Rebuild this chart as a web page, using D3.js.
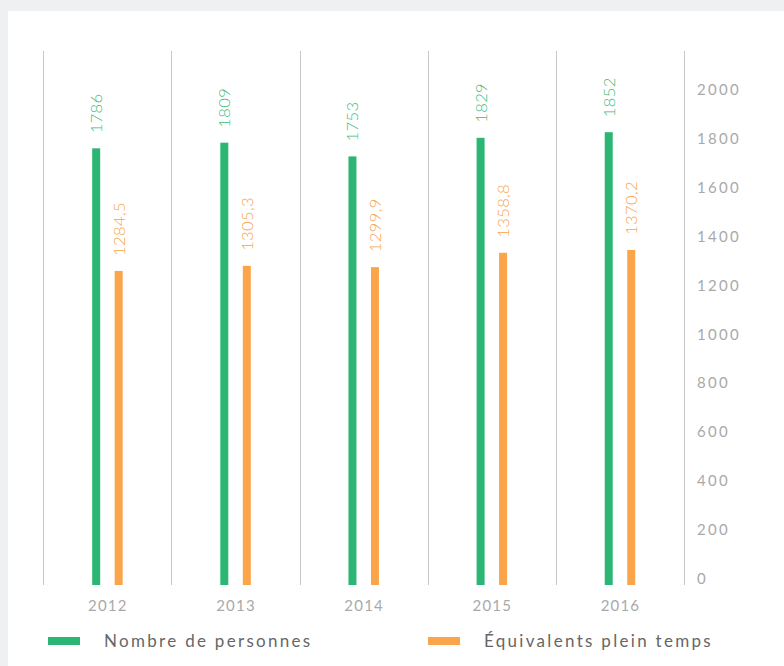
<!DOCTYPE html>
<html><head><meta charset="utf-8">
<script src="https://cdn.jsdelivr.net/npm/d3@7"></script>
<style>
html,body{margin:0;padding:0;background:#eff0f2;}
svg{display:block;}
text{font-family:Lato,"Open Sans",sans-serif;}
</style></head><body>
<script>
const years = ["2012","2013","2014","2015","2016"];
const personnes = [1786, 1809, 1753, 1829, 1852];
const etp = [1284.5, 1305.3, 1299.9, 1358.8, 1370.2];
const etpLabels = ["1284,5","1305,3","1299,9","1358,8","1370,2"];
const yTicks = [0,200,400,600,800,1000,1200,1400,1600,1800,2000];
const seriesNames = ["Nombre de personnes","Équivalents plein temps"];
const colors = ["#2bb673","#fba54a"];
const labelColors = ["#3dbe7b","#f9a54a"];

const W = 784, H = 666;
const svg = d3.select("body").append("svg").attr("width", W).attr("height", H);
svg.append("rect").attr("x", 8).attr("y", 11).attr("width", W - 8).attr("height", H - 11).attr("fill", "#fff");

const x = d3.scaleBand().domain(years).range([43.3, 684]);
const y = d3.scaleLinear().domain([0, 2000]).range([585, 96]);

// vertical grid lines
const gx = x.range();
const lines = years.map(d => x(d)).concat([gx[1]]);
svg.selectAll("line.grid").data(lines).join("line")
  .attr("x1", d => Math.round(d) + 0.5).attr("x2", d => Math.round(d) + 0.5)
  .attr("y1", 51).attr("y2", 585)
  .attr("stroke", "#c8c8c8").attr("stroke-width", 1);

const offsets = [-11.2, 11.3];
const bw = 8;
[personnes, etp].forEach((vals, si) => {
  svg.selectAll("rect.s" + si).data(vals).join("rect")
    .attr("x", (d, i) => x(years[i]) + x.bandwidth() / 2 + offsets[si] - bw / 2)
    .attr("y", d => y(d))
    .attr("width", bw)
    .attr("height", d => y(0) - y(d))
    .attr("fill", colors[si]);
  const labs = si === 0 ? vals.map(String) : etpLabels;
  svg.selectAll("text.l" + si).data(vals).join("text")
    .attr("transform", (d, i) => `translate(${x(years[i]) + x.bandwidth() / 2 + offsets[si]},${y(d) - 15}) rotate(-90)`)
    .attr("dy", "0.36em")
    .attr("text-anchor", "start")
    .attr("font-size", 16.5).attr("font-weight", 300).attr("letter-spacing", 0.4)
    .attr("fill", labelColors[si])
    .text((d, i) => labs[i]);
});

// y axis ticks labels (right)
svg.selectAll("text.yt").data(yTicks).join("text")
  .attr("x", 697).attr("y", d => y(d) - 1)
  .attr("font-size", 15).attr("letter-spacing", 2.3)
  .attr("fill", "#a9a9a9")
  .text(d => d);

// x labels
svg.selectAll("text.xt").data(years).join("text")
  .attr("x", d => x(d) + x.bandwidth() / 2 + 0.5).attr("y", 610.5)
  .attr("text-anchor", "middle")
  .attr("font-size", 15).attr("letter-spacing", 1.2)
  .attr("fill", "#a9a9a9")
  .text(d => d);

// legend
const legX = [48, 428];
seriesNames.forEach((n, i) => {
  svg.append("rect").attr("x", legX[i]).attr("y", 637).attr("width", 32).attr("height", 8).attr("fill", colors[i]);
  svg.append("text").attr("x", legX[i] + 56).attr("y", 647)
    .attr("font-size", 17).attr("letter-spacing", 2.3)
    .attr("fill", "#666")
    .text(n);
});
</script>
</body></html>
